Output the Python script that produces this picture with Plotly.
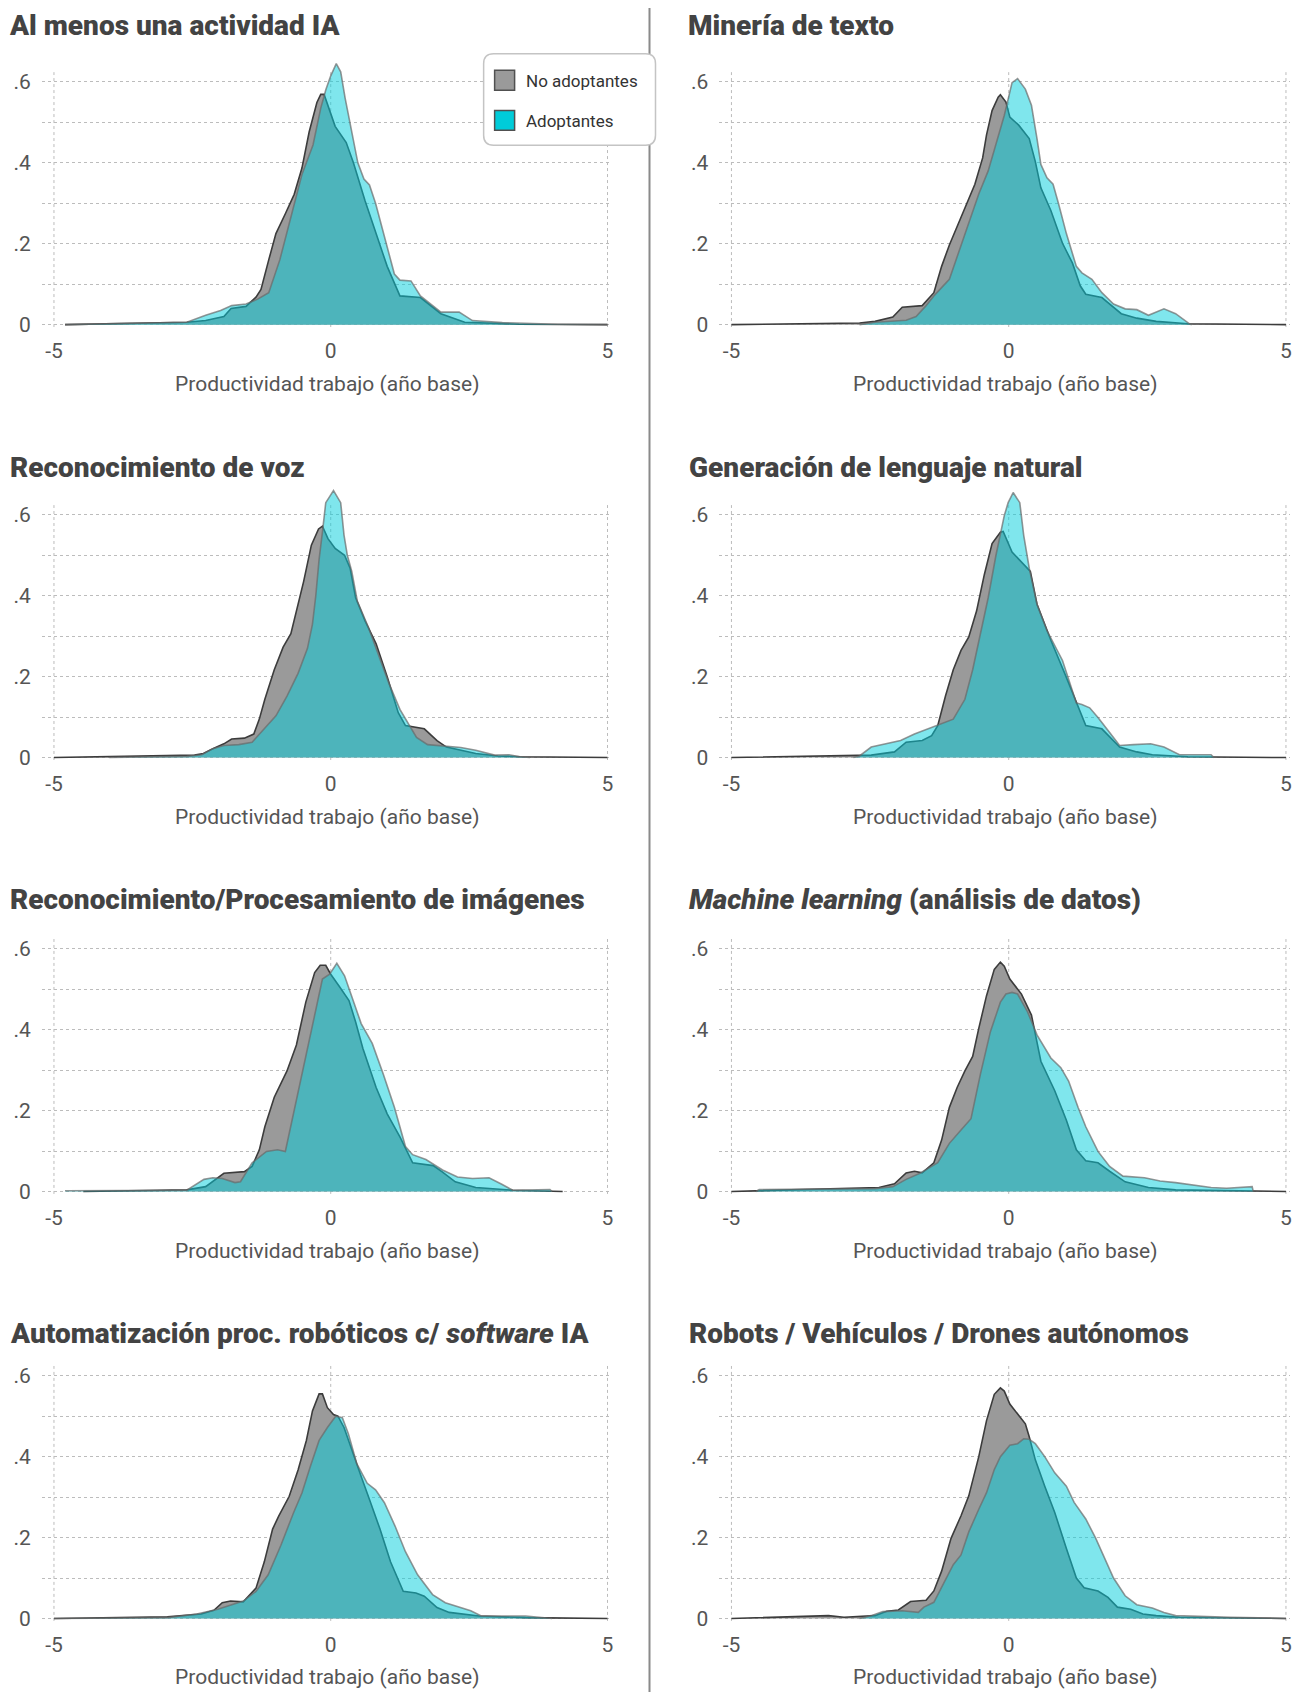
import plotly.graph_objects as go

# The page body has an 8px margin; the figure is shifted by it so that the target
# pixel positions land where they should in the 1307x1692 window.
PAGE_W, PAGE_H, OFF = 1307, 1692, 8
W, H = PAGE_W - 2 * OFF, PAGE_H + OFF

TITLES = [
    "Al menos una actividad IA",
    "Minería de texto",
    "Reconocimiento de voz",
    "Generación de lenguaje natural",
    "Reconocimiento/Procesamiento de imágenes",
    "<i>Machine learning</i> (análisis de datos)",
    "Automatización proc. robóticos c/ <i>software</i> IA",
    "Robots / Vehículos / Drones autónomos",
]
SERIES_NAMES = ["No adoptantes", "Adoptantes"]
X_TICKS = [-5, 0, 5]
X_TICK_TEXT = ["-5", "0", "5"]
Y_TICKS = [0, 0.1, 0.2, 0.3, 0.4, 0.5, 0.6]
Y_TICK_TEXT = ["0", "", ".2", "", ".4", "", ".6"]
X_TITLE = "Productividad trabajo (año base)"

# ---- 1. Al menos una actividad IA
X_AL_NO = [-4.8, -4.0, -3.0, -2.6, -2.26, -1.93, -1.8, -1.53, -1.35, -1.26, -1.12, -0.99, -0.82, -0.66, -0.52, -0.39, -0.25, -0.18, -0.12, -0.02, 0.08, 0.28, 0.41, 0.62, 0.82, 1.02, 1.25, 1.62, 1.99, 2.42, 3.4, 5.0]
Y_AL_NO = [0, .002, .004, .006, .01, .02, .04, .045, .068, .087, .16, .225, .274, .322, .387, .476, .549, .569, .569, .53, .49, .45, .40, .306, .225, .144, .071, .067, .027, .006, .001, 0]
X_AL_AD = [-4.8, -3.3, -2.6, -2.26, -1.99, -1.79, -1.53, -1.32, -1.12, -0.92, -0.72, -0.52, -0.32, -0.18, -0.09, 0.0, 0.1, 0.18, 0.26, 0.35, 0.49, 0.6, 0.7, 0.81, 1.0, 1.15, 1.25, 1.45, 1.62, 1.99, 2.32, 2.56, 3.1, 4.1, 5.0]
Y_AL_AD = [0, .003, .006, .023, .035, .047, .051, .063, .079, .16, .266, .371, .444, .535, .58, .615, .645, .625, .56, .5, .4, .36, .345, .3, .2, .125, .11, .108, .071, .031, .031, .01, .005, .001, 0]

# ---- 2. Minería de texto
X_MT_NO = [-5.0, -3.68, -2.69, -2.41, -2.09, -1.92, -1.7, -1.56, -1.35, -1.21, -1.07, -0.93, -0.75, -0.61, -0.47, -0.4, -0.3, -0.19, -0.15, -0.05, 0.02, 0.18, 0.37, 0.48, 0.58, 0.76, 0.97, 1.15, 1.29, 1.39, 1.68, 1.82, 2.03, 2.31, 2.66, 3.23, 5.0]
Y_MT_NO = [0, .002, .004, .008, .019, .043, .045, .047, .079, .144, .197, .242, .298, .347, .412, .469, .529, .562, .568, .55, .513, .493, .46, .403, .338, .282, .201, .152, .096, .075, .067, .051, .027, .016, .008, .002, 0]
X_MT_AD = [-2.69, -2.41, -1.85, -1.67, -1.49, -1.35, -1.07, -0.93, -0.72, -0.54, -0.37, -0.23, -0.08, 0.06, 0.16, 0.3, 0.41, 0.51, 0.58, 0.69, 0.8, 0.9, 1.04, 1.22, 1.32, 1.5, 1.68, 1.89, 2.1, 2.31, 2.52, 2.8, 3.01, 3.26, 3.3]
Y_MT_AD = [0, .006, .011, .02, .047, .071, .112, .169, .25, .323, .38, .444, .517, .598, .608, .582, .542, .46, .396, .363, .347, .298, .225, .144, .128, .112, .079, .051, .039, .037, .023, .039, .027, .002, 0]

# ---- 3. Reconocimiento de voz
X_RV_NO = [-5, -2.46, -2.3, -2.13, -1.93, -1.79, -1.56, -1.39, -1.29, -1.19, -1.02, -0.86, -0.72, -0.59, -0.49, -0.35, -0.22, -0.15, -0.05, 0.08, 0.25, 0.35, 0.45, 0.62, 0.82, 1.02, 1.22, 1.35, 1.69, 1.92, 2.09, 2.62, 3.02, 3.42, 5.0]
Y_RV_NO = [0, .006, .01, .022, .034, .046, .048, .058, .095, .144, .217, .273, .306, .379, .435, .525, .565, .572, .541, .517, .5, .468, .395, .338, .281, .2, .111, .079, .071, .042, .026, .01, .004, .002, 0]
X_RV_AD = [-4.0, -2.6, -2.33, -2.13, -1.93, -1.66, -1.42, -1.26, -0.99, -0.79, -0.59, -0.42, -0.33, -0.27, -0.21, -0.15, -0.09, 0.05, 0.18, 0.24, 0.3, 0.38, 0.48, 0.68, 0.88, 1.05, 1.25, 1.42, 1.55, 1.75, 2.09, 2.35, 2.62, 2.96, 3.22, 3.42, 3.6]
Y_RV_AD = [0, .003, .007, .022, .03, .032, .038, .062, .103, .152, .208, .27, .33, .4, .49, .557, .63, .66, .63, .55, .5, .46, .387, .322, .249, .184, .119, .079, .05, .032, .028, .025, .018, .006, .007, .002, 0]

# ---- 4. Generación de lenguaje natural
X_GL_NO = [-5, -2.69, -2.48, -2.06, -1.85, -1.56, -1.39, -1.28, -1.14, -1.0, -0.86, -0.72, -0.58, -0.44, -0.3, -0.15, -0.1, 0.06, 0.23, 0.39, 0.51, 0.76, 1.01, 1.22, 1.39, 1.68, 2.0, 2.31, 2.59, 3.23, 5.0]
Y_GL_NO = [0, .004, .006, .014, .038, .042, .054, .079, .152, .217, .265, .298, .362, .452, .529, .557, .559, .508, .484, .46, .379, .29, .208, .135, .079, .071, .026, .014, .007, .002, 0]
X_GL_AD = [-2.8, -2.69, -2.48, -2.2, -1.95, -1.7, -1.46, -1.28, -1.0, -0.79, -0.65, -0.51, -0.37, -0.23, -0.08, -0.01, 0.08, 0.2, 0.27, 0.37, 0.51, 0.69, 0.97, 1.22, 1.32, 1.46, 1.61, 1.82, 2.0, 2.25, 2.56, 2.8, 3.08, 3.65, 3.7]
Y_GL_AD = [0, .004, .026, .034, .042, .058, .071, .079, .095, .144, .217, .306, .395, .5, .598, .63, .655, .63, .55, .468, .379, .314, .24, .135, .131, .123, .099, .062, .03, .032, .034, .026, .007, .007, 0]

# ---- 5. Reconocimiento/Procesamiento de imágenes
X_IM_NO = [-4.47, -2.6, -2.26, -1.93, -1.56, -1.42, -1.29, -1.19, -1.02, -0.79, -0.62, -0.45, -0.29, -0.19, -0.09, 0.0, 0.15, 0.33, 0.45, 0.58, 0.82, 1.02, 1.25, 1.48, 1.85, 2.02, 2.25, 2.62, 3.29, 4.19]
Y_IM_NO = [0, .004, .012, .045, .049, .062, .103, .16, .233, .298, .362, .468, .541, .559, .559, .537, .508, .472, .419, .354, .257, .192, .135, .071, .064, .048, .024, .01, .003, 0]
X_IM_AD = [-4.8, -2.6, -2.29, -2.13, -1.96, -1.73, -1.63, -1.42, -1.16, -0.96, -0.82, -0.66, -0.49, -0.32, -0.15, -0.02, 0.11, 0.25, 0.38, 0.55, 0.75, 0.95, 1.15, 1.35, 1.48, 1.72, 2.02, 2.29, 2.56, 2.86, 3.09, 3.29, 3.96, 4.0]
Y_IM_AD = [.002, .003, .03, .034, .032, .022, .024, .071, .099, .103, .099, .2, .306, .411, .525, .537, .564, .533, .484, .415, .366, .29, .208, .111, .091, .079, .053, .036, .032, .034, .018, .003, .005, 0]

# ---- 6. Machine learning
X_ML_NO = [-5, -3.46, -2.62, -2.34, -2.06, -1.85, -1.7, -1.56, -1.35, -1.21, -1.07, -0.93, -0.79, -0.65, -0.54, -0.4, -0.26, -0.15, -0.08, 0.02, 0.23, 0.41, 0.58, 0.83, 1.04, 1.22, 1.39, 1.61, 1.82, 2.1, 2.52, 3.01, 5.0]
Y_ML_NO = [0, .006, .008, .01, .019, .046, .05, .046, .071, .127, .208, .257, .298, .334, .403, .484, .549, .567, .557, .525, .488, .436, .322, .249, .176, .103, .076, .071, .05, .024, .01, .004, 0]
X_ML_AD = [-4.56, -4.5, -2.41, -2.09, -1.85, -1.6, -1.28, -1.07, -0.86, -0.68, -0.51, -0.33, -0.15, -0.05, 0.06, 0.16, 0.34, 0.51, 0.76, 0.94, 1.08, 1.25, 1.39, 1.61, 1.82, 2.06, 2.45, 2.73, 3.01, 3.37, 3.65, 3.93, 4.39, 4.41]
Y_ML_AD = [0, .005, .007, .012, .03, .045, .071, .119, .152, .18, .29, .395, .468, .488, .492, .488, .444, .387, .33, .306, .273, .208, .16, .099, .062, .038, .034, .026, .022, .015, .01, .008, .012, 0]

# ---- 7. Automatización proc. robóticos
X_AP_NO = [-5, -2.95, -2.34, -2.11, -1.96, -1.81, -1.58, -1.35, -1.2, -1.05, -0.94, -0.75, -0.59, -0.44, -0.33, -0.21, -0.15, -0.06, 0.05, 0.13, 0.24, 0.4, 0.55, 0.7, 0.89, 1.08, 1.31, 1.54, 1.69, 1.92, 2.14, 2.68, 3.52, 5.0]
Y_AP_NO = [0, .004, .011, .02, .039, .043, .041, .075, .14, .221, .253, .302, .367, .44, .513, .555, .555, .521, .504, .5, .472, .407, .351, .294, .221, .14, .067, .063, .055, .027, .015, .006, .002, 0]
X_AP_AD = [-5, -2.95, -2.42, -2.04, -1.58, -1.35, -1.13, -0.9, -0.67, -0.52, -0.37, -0.21, -0.06, 0.09, 0.21, 0.32, 0.47, 0.66, 0.81, 0.97, 1.16, 1.35, 1.57, 1.84, 2.07, 2.34, 2.53, 2.72, 3.52, 3.91, 4.0]
Y_AP_AD = [0, .002, .011, .023, .043, .067, .108, .181, .262, .31, .375, .44, .472, .5, .496, .456, .383, .334, .318, .286, .229, .165, .108, .059, .039, .028, .019, .006, .006, .001, 0]

# ---- 8. Robots / Vehículos / Drones
X_RB_NO = [-5, -3.25, -2.97, -2.41, -2.2, -1.99, -1.77, -1.49, -1.35, -1.21, -1.04, -0.86, -0.72, -0.54, -0.4, -0.26, -0.15, -0.08, 0.02, 0.16, 0.3, 0.37, 0.48, 0.65, 0.83, 1.04, 1.22, 1.36, 1.61, 1.79, 1.96, 2.2, 2.42, 2.66, 3.08, 5.0]
Y_RB_NO = [0, .007, .003, .007, .018, .021, .042, .045, .068, .117, .198, .254, .303, .4, .489, .554, .57, .562, .53, .505, .481, .449, .392, .327, .262, .173, .1, .076, .068, .052, .028, .023, .011, .007, .003, 0]
X_RB_AD = [-2.69, -2.48, -2.27, -1.92, -1.63, -1.53, -1.35, -1.18, -1.0, -0.86, -0.72, -0.54, -0.4, -0.26, -0.15, 0.02, 0.16, 0.27, 0.37, 0.48, 0.65, 0.83, 1.04, 1.18, 1.39, 1.57, 1.75, 1.89, 2.1, 2.31, 2.59, 2.8, 3.01, 3.36, 4.0, 5.0]
Y_RB_AD = [0, .007, .017, .019, .015, .028, .04, .084, .133, .157, .214, .27, .311, .368, .4, .428, .432, .444, .443, .432, .4, .36, .327, .287, .246, .198, .141, .1, .056, .034, .026, .015, .007, .005, .003, 0]

PANELS = [
    (X_AL_NO, Y_AL_NO, X_AL_AD, Y_AL_AD),
    (X_MT_NO, Y_MT_NO, X_MT_AD, Y_MT_AD),
    (X_RV_NO, Y_RV_NO, X_RV_AD, Y_RV_AD),
    (X_GL_NO, Y_GL_NO, X_GL_AD, Y_GL_AD),
    (X_IM_NO, Y_IM_NO, X_IM_AD, Y_IM_AD),
    (X_ML_NO, Y_ML_NO, X_ML_AD, Y_ML_AD),
    (X_AP_NO, Y_AP_NO, X_AP_AD, Y_AP_AD),
    (X_RB_NO, Y_RB_NO, X_RB_AD, Y_RB_AD),
]

# ---- layout geometry (target page pixels)
COL_LEFT = [41.8, 719.8]
COL_RIGHT = [612.4, 1291.4]
ZERO_Y = [326.5, 762, 1198.5, 1628]
XTITLE_DY = [60, 60, 60, 59]
PX_PER_UNIT = 407.0
Y_RANGE = [-0.006, 0.675]       # room above so high peaks are not cut
GRID_TOP = 0.624                # where the dotted vertical grid stops
X_RANGE = [-5.22, 5.08]
TITLE_Y = [None, 470.5, 904.5, 1341]   # row 1 title hangs from the top edge
TITLE_X = [8, 688]
TITLE_SIZE = 28

FONT = "Roboto"
GRAY_FILL = "#9a9a9a"
GRAY_LINE = "#3c3c3c"
CYAN_FILL = "rgba(0,206,220,0.5)"
CYAN_LINE = "rgba(105,105,105,0.7)"
GRID = "#bcbcbc"
TICK_COLOR = "#555555"
TICK_SIZE = 21


def px(x):
    return (x - OFF) / W


def py(y):
    return 1 - (y - OFF) / H


fig = go.Figure()
layout = dict(
    width=W, height=H, margin=dict(l=0, r=0, t=0, b=0),
    paper_bgcolor="white", plot_bgcolor="white", showlegend=False,
    font=dict(family=FONT, color=TICK_COLOR),
)
annotations = []
shapes = []

for i, (xn, yn, xa, ya) in enumerate(PANELS):
    row, col = divmod(i, 2)
    sfx = "" if i == 0 else str(i + 1)
    xref, yref = "x" + sfx, "y" + sfx
    fig.add_trace(go.Scatter(
        x=xn, y=yn, xaxis=xref, yaxis=yref, mode="lines", name=SERIES_NAMES[0],
        fill="tozeroy", fillcolor=GRAY_FILL, line=dict(color=GRAY_LINE, width=1.6),
        hoverinfo="skip"))
    fig.add_trace(go.Scatter(
        x=xa, y=ya, xaxis=xref, yaxis=yref, mode="lines", name=SERIES_NAMES[1],
        fill="tozeroy", fillcolor=CYAN_FILL, line=dict(color=CYAN_LINE, width=1.6),
        hoverinfo="skip"))

    z = ZERO_Y[row]
    top = z - Y_RANGE[1] * PX_PER_UNIT
    bot = z - Y_RANGE[0] * PX_PER_UNIT
    layout["xaxis" + sfx] = dict(
        domain=[px(COL_LEFT[col]), px(COL_RIGHT[col])], anchor=yref, range=X_RANGE,
        tickvals=X_TICKS, ticktext=X_TICK_TEXT, showgrid=False, zeroline=False,
        showline=False, ticks="",
        tickfont=dict(size=TICK_SIZE, color=TICK_COLOR, family=FONT), ticklabelstandoff=9,
        fixedrange=True)
    layout["yaxis" + sfx] = dict(
        domain=[py(bot), py(top)], anchor=xref, range=Y_RANGE,
        tickvals=Y_TICKS, ticktext=Y_TICK_TEXT, showgrid=True, gridcolor=GRID,
        griddash="dot", gridwidth=1, zeroline=False, showline=False, ticks="",
        tickfont=dict(size=TICK_SIZE, color=TICK_COLOR, family=FONT), ticklabelstandoff=10,
        fixedrange=True)
    for xv in X_TICKS:
        shapes.append(dict(type="line", xref=xref, yref=yref, x0=xv, x1=xv,
                           y0=Y_RANGE[0], y1=GRID_TOP, layer="below",
                           line=dict(color=GRID, width=1, dash="dot")))
    title_font = dict(size=TITLE_SIZE, color="#434343", family=FONT, weight=900)
    if TITLE_Y[row] is None:
        annotations.append(dict(
            xref="paper", yref="paper", x=px(TITLE_X[col]), y=1.0,
            xanchor="left", yanchor="top", showarrow=False, borderpad=0,
            text=TITLES[i], font=title_font))
    else:
        annotations.append(dict(
            xref="paper", yref="paper", x=px(TITLE_X[col]), y=py(TITLE_Y[row]),
            xanchor="left", yanchor="middle", showarrow=False,
            text=TITLES[i], font=title_font))
    annotations.append(dict(
        xref="paper", yref="paper", x=px((COL_LEFT[col] + COL_RIGHT[col]) / 2),
        y=py(z + XTITLE_DY[row]), xanchor="center", yanchor="middle", showarrow=False,
        text=X_TITLE, font=dict(size=TICK_SIZE, color=TICK_COLOR, family=FONT)))

# legend (drawn by hand: rounded box with swatches)
LEG = dict(x0=484, y0=54, x1=656, y1=146, r=10)


def rounded_path(x0, y0, x1, y1, r):
    X = lambda v: f"{px(v):.5f}"
    Y = lambda v: f"{py(v):.5f}"
    return (f"M {X(x0 + r)} {Y(y0)} L {X(x1 - r)} {Y(y0)} "
            f"Q {X(x1)} {Y(y0)} {X(x1)} {Y(y0 + r)} L {X(x1)} {Y(y1 - r)} "
            f"Q {X(x1)} {Y(y1)} {X(x1 - r)} {Y(y1)} L {X(x0 + r)} {Y(y1)} "
            f"Q {X(x0)} {Y(y1)} {X(x0)} {Y(y1 - r)} L {X(x0)} {Y(y0 + r)} "
            f"Q {X(x0)} {Y(y0)} {X(x0 + r)} {Y(y0)} Z")


shapes.append(dict(type="line", xref="paper", yref="paper", x0=px(650), x1=px(650),
                   y0=0, y1=1, line=dict(color="#8a8a8a", width=2)))
shapes.append(dict(type="path", xref="paper", yref="paper",
                   path=rounded_path(LEG["x0"], LEG["y0"], LEG["x1"], LEG["y1"], LEG["r"]),
                   fillcolor="white", line=dict(color="#c4c4c4", width=1.5)))
SWATCH_FILL = [GRAY_FILL, "#00ccd9"]
SWATCH_Y = [80.7, 121]
for k, name in enumerate(SERIES_NAMES):
    cy = SWATCH_Y[k]
    shapes.append(dict(type="rect", xref="paper", yref="paper",
                       x0=px(495), x1=px(515), y0=py(cy + 10), y1=py(cy - 10),
                       fillcolor=SWATCH_FILL[k], line=dict(color="#505050", width=1.5)))
    annotations.append(dict(xref="paper", yref="paper", x=px(524), y=py(cy + 0.7),
                            xanchor="left", yanchor="middle", showarrow=False,
                            text=name, font=dict(size=17, color="#333333", family=FONT)))

layout["shapes"] = shapes
layout["annotations"] = annotations
fig.update_layout(**layout)
fig.write_html("out.html")
